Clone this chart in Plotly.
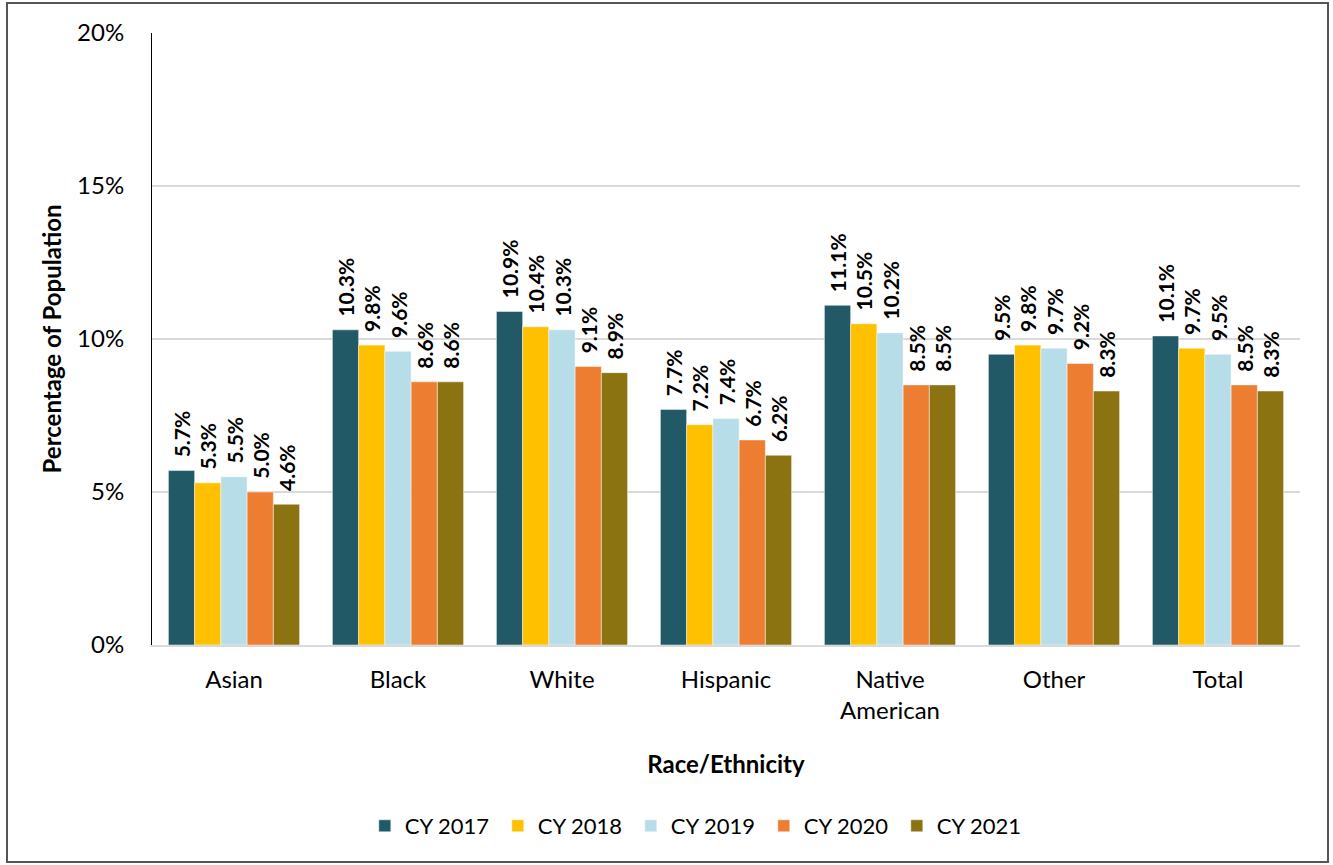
import plotly.graph_objects as go

# Share of population by race/ethnicity, calendar years 2017-2021
categories = ["Asian", "Black", "White", "Hispanic", "Native<br>American", "Other", "Total"]
years = ["CY 2017", "CY 2018", "CY 2019", "CY 2020", "CY 2021"]
cy2017 = [5.7, 10.3, 10.9, 7.7, 11.1, 9.5, 10.1]
cy2018 = [5.3, 9.8, 10.4, 7.2, 10.5, 9.8, 9.7]
cy2019 = [5.5, 9.6, 10.3, 7.4, 10.2, 9.7, 9.5]
cy2020 = [5.0, 8.6, 9.1, 6.7, 8.5, 9.2, 8.5]
cy2021 = [4.6, 8.6, 8.9, 6.2, 8.5, 8.3, 8.3]
series = [cy2017, cy2018, cy2019, cy2020, cy2021]
colors = ["#215967", "#FFC000", "#B7DEE8", "#ED7D31", "#8B7311"]
y_ticks = [0, 5, 10, 15, 20]
y_tick_text = ["0%", "5%", "10%", "15%", "20%"]

FONT = "Lato, Carlito, Calibri, sans-serif"

fig = go.Figure()
for name, vals, col in zip(years, series, colors):
    fig.add_trace(go.Bar(
        name=name, x=categories, y=vals,
        marker=dict(color=col, line=dict(color="rgba(255,255,255,0.6)", width=0.8)),
        texttemplate="  %{y:.1f}%", textposition="outside", textangle=-90,
        constraintext="none",
        textfont=dict(family=FONT, size=21, color="#000000", weight="bold"),
        cliponaxis=False,
    ))

W, H = 1333, 865
L, R, T, B = 152, 33, 33, 220
pw, ph = W - L - R, H - T - B

def px_x(p):
    return (p - L) / pw

def px_y(p):
    return (H - B - p) / ph

fig.update_layout(
    width=W, height=H,
    margin=dict(l=L, r=R, t=T, b=B),
    paper_bgcolor="white", plot_bgcolor="white",
    barmode="group", bargap=0.2, bargroupgap=0.0,
    font=dict(family=FONT, size=22, color="#000000"),
    showlegend=True,
    legend=dict(orientation="h", x=0.475, xanchor="center", y=px_y(826), yanchor="middle",
                font=dict(family=FONT, size=22), itemwidth=30,
                entrywidth=88, entrywidthmode="pixels", traceorder="normal"),
    shapes=[dict(type="rect", xref="paper", yref="paper",
                 x0=px_x(7), x1=px_x(1328), y0=px_y(862), y1=px_y(3),
                 line=dict(color="#555555", width=2), fillcolor="rgba(0,0,0,0)", layer="below")],
)

fig.update_yaxes(
    range=[0, 20], tickmode="array", tickvals=y_ticks, ticktext=y_tick_text,
    showgrid=True, gridcolor="#D9D9D9", gridwidth=2,
    showline=True, linecolor="#000000", linewidth=1,
    ticks="outside", ticklen=22, tickcolor="rgba(0,0,0,0)",
    tickfont=dict(family=FONT, size=24),
    zeroline=False,
    title=dict(text="Percentage of Population", standoff=8,
               font=dict(family=FONT, size=24, weight="bold")),
)
fig.update_xaxes(
    showline=True, linecolor="#D9D9D9", linewidth=2,
    ticks="outside", ticklen=12, tickcolor="rgba(0,0,0,0)",
    tickfont=dict(family=FONT, size=24),
    title=dict(text="Race/Ethnicity", standoff=33,
               font=dict(family=FONT, size=24, weight="bold")),
)

fig.write_html("out.html")
